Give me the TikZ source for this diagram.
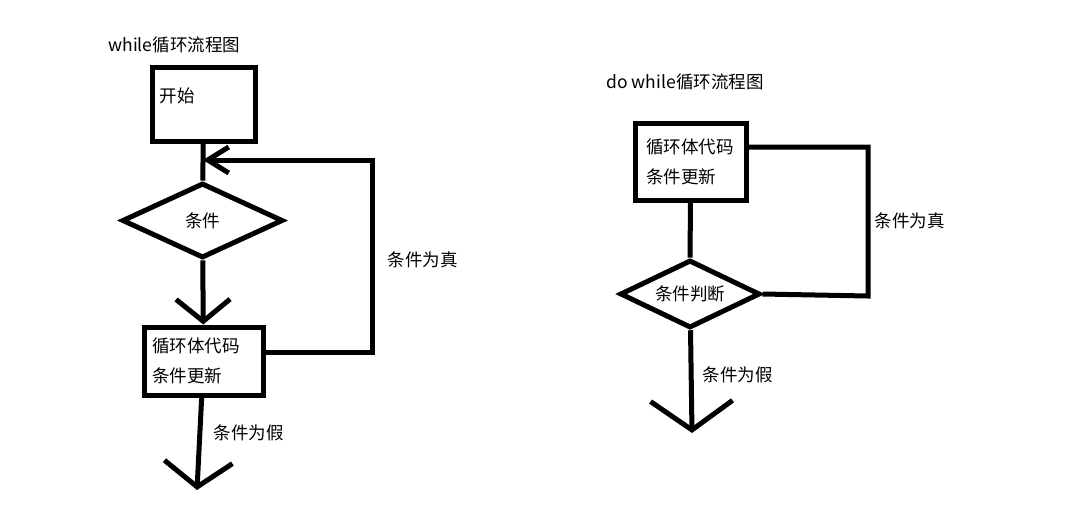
\documentclass[tikz,border=0pt]{standalone}
\usepackage{fontspec}
\setmainfont{Noto Sans CJK SC}
\usetikzlibrary{shapes.geometric,arrows.meta}
\begin{document}
\begin{tikzpicture}[x=1pt,y=-1pt,
  line width=5pt,
  txt/.style={font=\fontsize{17.5}{30}\selectfont, inner sep=0pt},
  box/.style={draw, rectangle, line width=5pt, inner ysep=0pt},
  dia/.style={draw, diamond, shape aspect=2.1, line width=5pt, inner sep=0pt},
]
\useasboundingbox (0,0) rectangle (1091,515);
% ---------- while ----------
\node[txt, anchor=west] (t1) at (106,45) {while循环流程图};
\node[box, minimum width=103pt, minimum height=74pt] (start) at (203.5,104) {};
\node[txt, anchor=west] (startlbl) at (157,96) {开始};
\node[dia, txt, minimum width=161pt, minimum height=75pt] (cond) at (202.5,220.5) {条件};
\node[box, txt, align=left, text width=103pt, inner xsep=8pt, minimum height=68pt] (body) at (203.5,361) {循环体代码\\条件更新};
\coordinate (j1) at (203,160);
\coordinate (r1) at (372,160);
\coordinate (end1) at (197,490);
\draw (start) -- (cond);
\draw[-{Straight Barb[length=22pt,width=54pt]}] (cond) -- (body);
\draw[-{Straight Barb[length=21pt,width=26pt]}] ([yshift=9pt]body.east) -| (r1) -- (j1);
\draw[-{Straight Barb[length=25pt,width=68pt]}] (body) -- (end1);
\node[txt, anchor=west] (lt1) at (385,260) {条件为真};
\node[txt, anchor=west] (lf1) at (211,433) {条件为假};
% ---------- do while ----------
\node[txt, anchor=west] (t2) at (604,82) {do while循环流程图};
\node[box, txt, align=left, text width=89pt, inner xsep=11pt, minimum height=77pt] (body2) at (690.5,161.5) {循环体代码\\条件更新};
\node[dia, txt, minimum width=140pt, minimum height=68pt] (cond2) at (690,294) {条件判断};
\coordinate (tr2) at (868,147);
\coordinate (br2) at (868,296);
\coordinate (end2) at (692,433);
\draw (body2) -- (cond2);
\draw ([yshift=14.5pt]body2.east) -- (tr2) -- (br2) -- (cond2.east);
\draw[-{Straight Barb[length=29pt,width=82pt]}] (cond2) -- (end2);
\node[txt, anchor=west] (lt2) at (872,221) {条件为真};
\node[txt, anchor=west] (lf2) at (700,375) {条件为假};
\end{tikzpicture}
\end{document}
